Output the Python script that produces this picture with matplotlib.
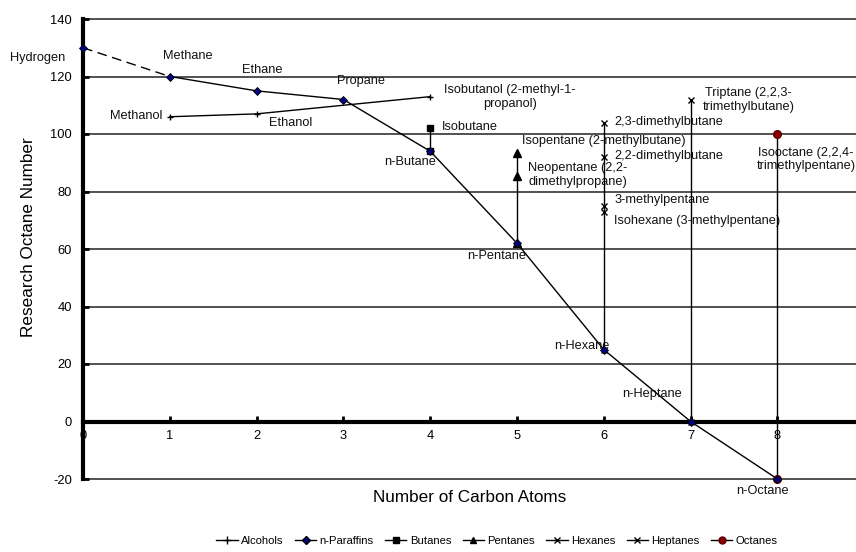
import matplotlib.pyplot as plt

plt.rcParams['font.family'] = ['Liberation Sans', 'DejaVu Sans']
plt.rcParams['axes.unicode_minus'] = False

# --- data ---
carbon = [0, 1, 2, 3, 4, 5, 6, 7, 8]
paraffin_ron = [130, 120, 115, 112, 94, 62, 25, 0, -20]

alcohol_c = [1, 2, 4]
alcohol_ron = [106, 107, 113]

butane_ron = [94, 102]
pentane_ron = [62, 85.5, 93.5]
hexane_ron = [25, 73, 75, 92, 104]
heptane_ron = [0, 112]
octane_ron = [-20, 100]

# label, x, y, ha
labels = [
    ("Hydrogen", -0.21, 126.3, "right"),
    ("Methane", 1.21, 127.3, "center"),
    ("Ethane", 2.07, 122.4, "center"),
    ("Propane", 3.2, 118.3, "center"),
    ("Methanol", 0.91, 106.4, "right"),
    ("Ethanol", 2.14, 104.0, "left"),
    ("n-Butane", 3.77, 90.4, "center"),
    ("Isobutanol (2-methyl-1-\npropanol)", 4.92, 112.9, "center"),
    ("Isobutane", 4.14, 102.3, "left"),
    ("Isopentane (2-methylbutane)", 5.06, 97.7, "left"),
    ("Neopentane (2,2-\ndimethylpropane)", 5.13, 85.7, "left"),
    ("2,3-dimethylbutane", 6.12, 104.3, "left"),
    ("2,2-dimethylbutane", 6.12, 92.2, "left"),
    ("3-methylpentane", 6.12, 77.2, "left"),
    ("Isohexane (3-methylpentane)", 6.12, 69.9, "left"),
    ("Triptane (2,2,3-\ntrimethylbutane)", 7.67, 111.8, "center"),
    ("Isooctane (2,2,4-\ntrimethylpentane)", 8.33, 91.1, "center"),
    ("n-Pentane", 4.77, 57.7, "center"),
    ("n-Hexane", 5.75, 26.4, "center"),
    ("n-Heptane", 6.55, 9.7, "center"),
    ("n-Octane", 7.83, -24.0, "center"),
]

fig = plt.figure(figsize=(8.56, 5.52), dpi=100)
ax = fig.add_axes([83 / 856, 73 / 552, 773 / 856, 460 / 552])

ax.set_xlim(0, 8.905)
ax.set_ylim(-20, 140)
ax.set_yticks(range(-20, 141, 20))
ax.set_xticks(carbon)
for g in range(-20, 141, 20):
    ax.axhline(g, color='#333333', linewidth=1.2, clip_on=False, zorder=0.5)

for s in ['top', 'right']:
    ax.spines[s].set_visible(False)
ax.spines['bottom'].set_position(('data', 0))
ax.spines['bottom'].set_linewidth(3)
ax.spines['left'].set_linewidth(3)
ax.spines['bottom'].set_zorder(1)
ax.tick_params(axis='both', direction='in', length=4, width=2, labelsize=9.3, colors='black')
ax.tick_params(axis='x', pad=6)
ax.tick_params(axis='y', pad=8)

lw = 1.0
ax.plot(carbon[:2], paraffin_ron[:2], color='black', lw=lw, ls=(0, (7, 4)))
ax.plot(carbon[1:], paraffin_ron[1:], color='black', lw=lw)
ax.plot(carbon, paraffin_ron, ls='none', marker='D', ms=4.5, mfc='#000080', mec='black',
        mew=0.6, clip_on=False, zorder=5)
ax.plot(alcohol_c, alcohol_ron, color='black', lw=lw, marker='+', ms=5, mew=1)
ax.plot([4] * len(butane_ron), butane_ron, color='black', lw=lw, marker='s', ms=5, zorder=4)
ax.plot([5] * len(pentane_ron), pentane_ron, color='black', lw=lw, marker='^', ms=5.5, zorder=4)
ax.plot([6] * len(hexane_ron), hexane_ron, color='black', lw=lw, marker='x', ms=4.5, mew=1, zorder=4)
ax.plot([7] * len(heptane_ron), heptane_ron, color='black', lw=lw, marker='x', ms=4.5, mew=1, zorder=4)
ax.plot([8] * len(octane_ron), octane_ron, color='black', lw=lw, marker='o', ms=5.5,
        mfc='#8b0000', mec='#5a0000', clip_on=False, zorder=4)

for txt, x, y, ha in labels:
    ax.text(x, y, txt, ha=ha, va='center', fontsize=9.2, color='#111111',
            linespacing=1.15, clip_on=False)

fig.text(470 / 856, 1 - 498 / 552, 'Number of Carbon Atoms', ha='center', va='center', fontsize=12.3)
fig.text(29 / 856, 1 - 237 / 552, 'Research Octane Number', ha='center', va='center',
         rotation=90, fontsize=12.3)

# legend
h = [
    plt.Line2D([], [], color='black', lw=lw, marker='+', ms=6, mew=1, label='Alcohols'),
    plt.Line2D([], [], color='black', lw=lw, marker='D', ms=4, mfc='#000080', mec='black', label='n-Paraffins'),
    plt.Line2D([], [], color='black', lw=lw, marker='s', ms=5, label='Butanes'),
    plt.Line2D([], [], color='black', lw=lw, marker='^', ms=5, label='Pentanes'),
    plt.Line2D([], [], color='black', lw=lw, marker='x', ms=4.5, mew=1, label='Hexanes'),
    plt.Line2D([], [], color='black', lw=lw, marker='x', ms=4.5, mew=1, label='Heptanes'),
    plt.Line2D([], [], color='black', lw=lw, marker='o', ms=5, mfc='#8b0000', mec='#5a0000', label='Octanes'),
]
fig.legend(handles=h, loc='center', bbox_to_anchor=(497 / 856, 1 - 541 / 552), ncol=7,
           frameon=False, fontsize=8.1, handlelength=1.9, handletextpad=0.3, columnspacing=1.0)

fig.savefig('out.png', dpi=100)
